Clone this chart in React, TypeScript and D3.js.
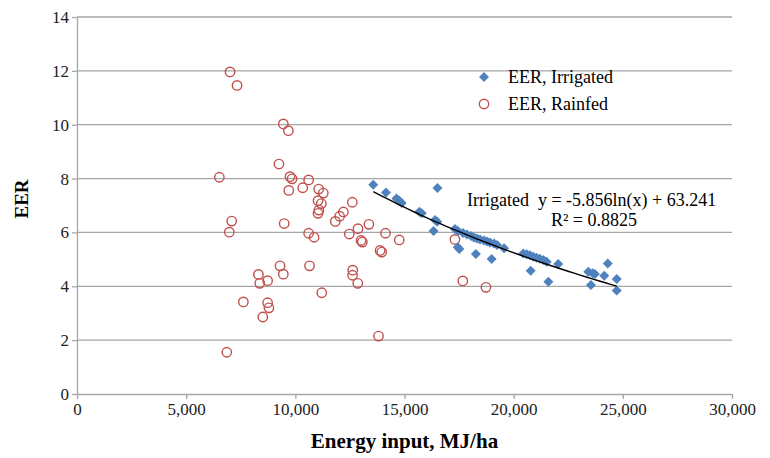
import React, { useEffect, useRef } from "react";
import * as d3 from "d3";

// Rainfed farms (open red circles)
const rainfedEnergy = [
  7010, 7330, 9450, 9680, 9250, 6520, 9755, 9850, 10610, 9700, 10340, 11070,
  11280, 11040, 11190, 11080, 11040, 12610, 12200, 12030, 11830, 13370, 12870,
  12470, 10610, 10860, 14130, 13010, 13070, 13880, 13955, 14760, 7085, 6975,
  9490, 9300, 9450, 8310, 8370, 8730, 7620, 8730, 8790, 8510, 6860, 10650,
  12630, 12620, 12860, 11210, 13810, 17310, 17670, 18730,
];
const rainfedEER = [
  11.96, 11.46, 10.03, 9.78, 8.54, 8.05, 8.07, 7.99, 7.95, 7.56, 7.66, 7.61,
  7.46, 7.18, 7.07, 6.83, 6.71, 7.12, 6.76, 6.6, 6.41, 6.3, 6.14, 5.94, 5.97,
  5.82, 5.97, 5.7, 5.64, 5.33, 5.27, 5.72, 6.42, 6.01, 6.33, 4.76, 4.45, 4.44,
  4.11, 4.21, 3.42, 3.39, 3.2, 2.86, 1.55, 4.76, 4.6, 4.41, 4.11, 3.76, 2.15,
  5.74, 4.2, 3.96,
];

// Irrigated farms (blue diamonds)
const irrigatedEnergy = [
  13570, 14150, 14630, 14750, 14870, 16510, 15680, 15790, 16400, 16500, 16330,
  17310, 17450, 17680, 17860, 18045, 18180, 18320, 18460, 18640, 18780, 18915,
  19100, 19240, 19560, 17440, 17510, 18270, 18990, 20440, 20600, 20750, 20900,
  21050, 21200, 21360, 21510, 20780, 22040, 21590, 23420, 23620, 23720, 23540,
  24310, 24150, 24720, 24720,
];
const irrigatedEER = [
  7.77, 7.48, 7.26, 7.19, 7.09, 7.65, 6.77, 6.71, 6.46, 6.4, 6.05, 6.13, 6.05,
  5.98, 5.92, 5.87, 5.81, 5.77, 5.74, 5.7, 5.66, 5.63, 5.59, 5.53, 5.41, 5.45,
  5.38, 5.2, 5.01, 5.22, 5.19, 5.15, 5.1, 5.06, 5.02, 4.98, 4.91, 4.58, 4.83,
  4.17, 4.54, 4.48, 4.46, 4.05, 4.85, 4.39, 4.27, 3.84,
];

const xTicks = [0, 5000, 10000, 15000, 20000, 25000, 30000];
const yTicks = [0, 2, 4, 6, 8, 10, 12, 14];

// fitted log trend for irrigated: y = a*ln(x) + b
const trendA = -5.856;
const trendB = 63.241;

export default function App() {
  const svgRef = useRef<SVGSVGElement>(null);

  useEffect(() => {
    document.body.style.margin = "0";
    const width = 770;
    const height = 458;
    const margin = { top: 17, right: 38, bottom: 64, left: 77 };
    const font = "'Liberation Serif', 'Times New Roman', serif";

    const svg = d3.select(svgRef.current);
    svg.selectAll("*").remove();
    svg.attr("width", width).attr("height", height).style("background", "#fff");

    const x = d3
      .scaleLinear()
      .domain([0, 30000])
      .range([margin.left, width - margin.right]);
    const y = d3
      .scaleLinear()
      .domain([0, 14])
      .range([height - margin.bottom, margin.top]);

    // gridlines
    svg
      .append("g")
      .selectAll("line")
      .data(yTicks.filter((d) => d > 0))
      .join("line")
      .attr("x1", x(0))
      .attr("x2", x(30000))
      .attr("y1", (d) => y(d))
      .attr("y2", (d) => y(d))
      .attr("stroke", "#a6a6a6")
      .attr("stroke-width", 1.3);

    const yAxis = svg
      .append("g")
      .attr("transform", `translate(${x(0)},0)`)
      .call(d3.axisLeft(y).tickValues(yTicks).tickSize(5).tickSizeOuter(0));
    const xAxis = svg
      .append("g")
      .attr("transform", `translate(0,${y(0)})`)
      .call(
        d3
          .axisBottom(x)
          .tickValues(xTicks)
          .tickSize(5)
          .tickSizeOuter(0)
          .tickFormat(d3.format(","))
      );
    [xAxis, yAxis].forEach((g) => {
      g.selectAll("path,line").attr("stroke", "#a6a6a6").attr("stroke-width", 1.3);
      g.selectAll("text")
        .attr("fill", "#222")
        .style("font-family", font)
        .style("font-size", "17px");
    });
    yAxis.selectAll("text").attr("x", -8);
    xAxis.selectAll("text").attr("y", 9);

    // rainfed circles
    svg
      .append("g")
      .selectAll("circle")
      .data(rainfedEnergy)
      .join("circle")
      .attr("cx", (d) => x(d))
      .attr("cy", (d, i) => y(rainfedEER[i]))
      .attr("r", 4.7)
      .attr("fill", "none")
      .attr("stroke", "#C0504D")
      .attr("stroke-width", 1.4);

    // irrigated diamonds
    const diamond = d3.symbol().type(d3.symbolSquare).size(50);
    svg
      .append("g")
      .selectAll("path")
      .data(irrigatedEnergy)
      .join("path")
      .attr("d", diamond)
      .attr(
        "transform",
        (d, i) => `translate(${x(d)},${y(irrigatedEER[i])}) rotate(45)`
      )
      .attr("fill", "#4F81BD");

    // trendline
    const [xMin, xMax] = d3.extent(irrigatedEnergy) as [number, number];
    const trendX = d3.range(0, 41).map((i) => xMin + ((xMax - xMin) * i) / 40);
    svg
      .append("path")
      .datum(trendX)
      .attr(
        "d",
        d3
          .line<number>()
          .x((d) => x(d))
          .y((d) => y(trendA * Math.log(d) + trendB))
      )
      .attr("fill", "none")
      .attr("stroke", "#000")
      .attr("stroke-width", 1.4);

    const eq = svg.append("g").style("font-family", font).style("font-size", "18px");
    eq.append("text")
      .attr("x", 467)
      .attr("y", 206)
      .style("white-space", "pre")
      .text("Irrigated  y = -5.856ln(x) + 63.241");
    eq.append("text")
      .attr("x", 594)
      .attr("y", 226)
      .attr("text-anchor", "middle")
      .text("R² = 0.8825");

    // legend
    const legend = svg.append("g").style("font-family", font).style("font-size", "18px");
    legend
      .append("path")
      .attr("d", diamond)
      .attr("transform", "translate(484,77) rotate(45)")
      .attr("fill", "#4F81BD");
    legend.append("text").attr("x", 508).attr("y", 83).text("EER, Irrigated");
    legend
      .append("circle")
      .attr("cx", 484)
      .attr("cy", 104)
      .attr("r", 4.7)
      .attr("fill", "none")
      .attr("stroke", "#C0504D")
      .attr("stroke-width", 1.4);
    legend.append("text").attr("x", 508).attr("y", 110).text("EER, Rainfed");

    // axis titles
    svg
      .append("text")
      .attr("x", (x(0) + x(30000)) / 2)
      .attr("y", 448)
      .attr("text-anchor", "middle")
      .style("font-family", font)
      .style("font-size", "21px")
      .style("font-weight", "bold")
      .text("Energy input, MJ/ha");
    svg
      .append("text")
      .attr("transform", `translate(28,199) rotate(-90)`)
      .attr("text-anchor", "middle")
      .style("font-family", font)
      .style("font-size", "19px")
      .style("font-weight", "bold")
      .text("EER");
  }, []);

  return (
    <div>
      <svg ref={svgRef}></svg>
    </div>
  );
}
